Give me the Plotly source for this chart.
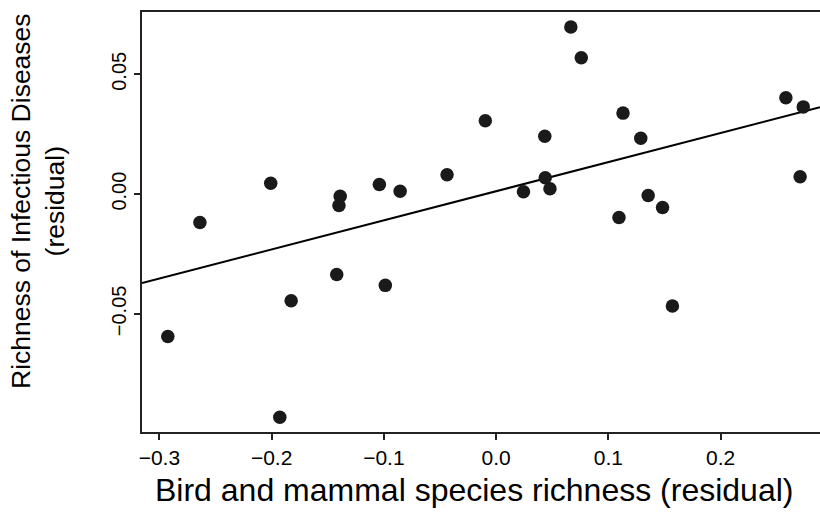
import plotly.graph_objects as go
import numpy as np

# Data
bird_mammal_resid = [0.0666, 0.0759, 0.2582, 0.2737, 0.1131, -0.0096, 0.0434, 0.1289,
                     -0.0437, 0.2709, -0.2008, -0.1040, -0.0855, 0.0438, 0.0244, 0.0480,
                     -0.1389, -0.1400, 0.1355, 0.1483, 0.1095, -0.2639, -0.1420, -0.0987,
                     -0.1826, -0.2925, -0.1927, 0.1571]
disease_resid = [0.0697, 0.0569, 0.0402, 0.0364, 0.0338, 0.0306, 0.0241, 0.0233,
                 0.0081, 0.0072, 0.0045, 0.0040, 0.0012, 0.0068, 0.0010, 0.0022,
                 -0.0009, -0.0048, -0.0006, -0.0056, -0.0098, -0.0119, -0.0336, -0.0381,
                 -0.0445, -0.0594, -0.0931, -0.0467]

fit_intercept = 0.0012
fit_slope = 0.1215

x_range = [-0.3155, 0.2886]
y_range = [-0.0993, 0.0760]

x_tickvals = [-0.3, -0.2, -0.1, 0.0, 0.1, 0.2]
x_ticktext = ["\u22120.3", "\u22120.2", "\u22120.1", "0.0", "0.1", "0.2"]
y_tickvals = [-0.05, 0.0, 0.05]
y_ticktext = ["\u22120.05", "0.00", "0.05"]

x_title = "Bird and mammal species richness (residual)"
y_title = "Richness of Infectious Diseases<br>(residual)"

FONT = "Liberation Sans, Arial, Helvetica, sans-serif"

line_x = np.array(x_range)
line_y = fit_intercept + fit_slope * line_x

fig = go.Figure()
fig.add_trace(go.Scatter(
    x=line_x, y=line_y, mode="lines",
    line=dict(color="black", width=2), hoverinfo="skip", showlegend=False))
fig.add_trace(go.Scatter(
    x=bird_mammal_resid, y=disease_resid, mode="markers",
    marker=dict(size=13.5, color="#1a1a1a", line=dict(width=0)), showlegend=False))

fig.update_layout(
    width=820, height=527,
    margin=dict(l=142, r=0, t=12, b=95),
    paper_bgcolor="white", plot_bgcolor="white",
    font=dict(family=FONT, color="black", size=20),
    xaxis=dict(range=x_range, tickvals=x_tickvals, ticktext=x_ticktext,
               showgrid=False, zeroline=False, showline=True, linecolor="#222",
               linewidth=2, mirror=True, ticks="outside", ticklen=6, tickwidth=1.5,
               tickcolor="#222", tickfont=dict(size=21)),
    yaxis=dict(range=y_range, tickvals=y_tickvals, ticktext=y_ticktext,
               showgrid=False, zeroline=False, showline=True, linecolor="#222",
               linewidth=2, mirror=False, ticks="outside", ticklen=6, tickwidth=1.5,
               tickcolor="#222", tickangle=-90, tickfont=dict(size=20)),
    annotations=[
        dict(text=x_title, xref="paper", yref="paper", x=0.49, y=-0.138,
             xanchor="center", yanchor="middle", showarrow=False,
             font=dict(size=32, family=FONT)),
        dict(text=y_title, xref="paper", yref="paper", x=-0.1534, y=0.55,
             xanchor="center", yanchor="middle", showarrow=False, textangle=-90,
             font=dict(size=26.5, family=FONT)),
    ],
)

# remove the default 8px page margin so the figure fills the 820x527 window
fig.write_html("out.html",
               config={"displayModeBar": False},
               post_script="document.body.style.margin='0';document.body.style.overflow='hidden';")
